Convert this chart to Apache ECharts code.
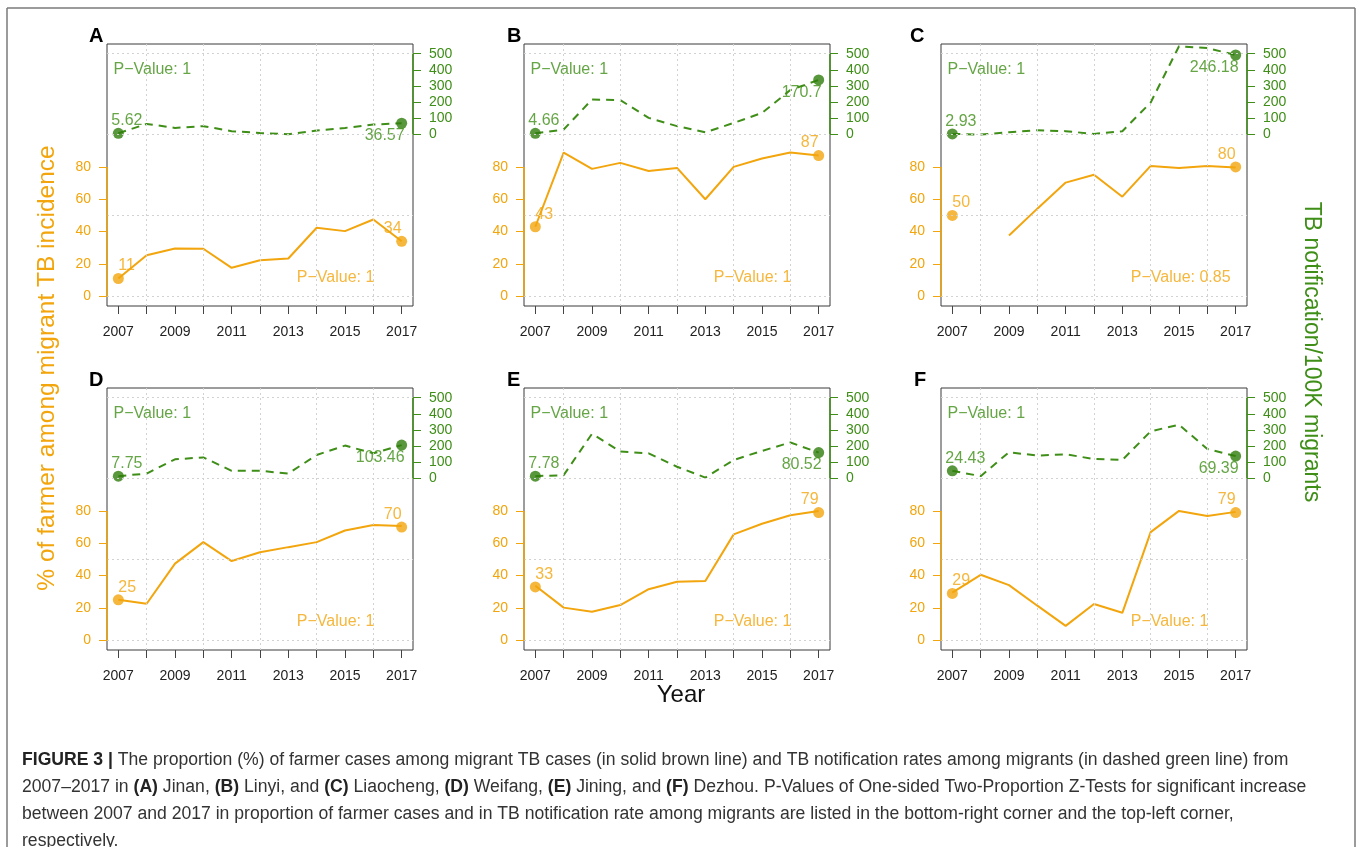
<!DOCTYPE html>
<html>
<head>
<meta charset="utf-8">
<script src="https://cdn.jsdelivr.net/npm/echarts@6.0.0/dist/echarts.min.js"></script>
<style>
html,body{margin:0;padding:0;background:#fff;}
#chart{width:1358px;height:847px;}
</style>
</head>
<body>
<div id="chart"></div>
<script>
// ---------------- data ----------------
const years = [2007, 2008, 2009, 2010, 2011, 2012, 2013, 2014, 2015, 2016, 2017];
const xLabelYears = [2007, 2009, 2011, 2013, 2015, 2017];
const farmerTicks = [0, 20, 40, 60, 80];
const notifTicks = [0, 100, 200, 300, 400, 500];
const gridXValues = [2008, 2010, 2012, 2014, 2016];
const gridYValues = [0, 50, 100, 150];
const panelLetters = ['A', 'B', 'C', 'D', 'E', 'F'];

// % farmer among migrant TB (orange solid)
const farmerA = [11, 25.4, 29.6, 29.4, 17.6, 22.3, 23.4, 42.4, 40.3, 47.5, 34];
const farmerB = [43, 88.9, 78.8, 82.5, 77.5, 79.4, 60, 80, 85.2, 88.9, 87];
const farmerC = [null, null, 37.6, 54.2, 70.3, 75.2, 61.6, 80.6, 79.4, 80.6, 79.6];
const farmerD = [25, 22.6, 47.4, 60.7, 49, 54.4, 57.6, 60.7, 67.9, 71.3, 70.6];
const farmerE = [33.7, 20.2, 17.7, 21.8, 31.6, 36.2, 36.6, 65.5, 72.1, 77.3, 80];
const farmerF = [29.5, 40.5, 34.1, 21.4, 8.9, 22.4, 17, 66.9, 80, 76.9, 79.4];

// TB notification / 100K migrants (green dashed), as drawn on the right axis
const notifA = [8, 66, 41, 52, 21, 10, 2, 25, 41, 62, 70];
const notifB = [8, 31, 217, 213, 103, 52, 14, 72, 134, 275, 338];
const notifC = [4, 0, 15, 27, 21, 4, 21, 198, 546, 535, 492];
const notifD = [15, 31, 119, 131, 48, 48, 31, 146, 204, 156, 207];
const notifE = [15, 21, 277, 167, 156, 73, 6, 115, 171, 223, 161];
const notifF = [48, 15, 163, 142, 150, 121, 115, 292, 333, 183, 139];

const farmerStart = [11, 43, 50, 25, 33, 29];
const farmerEnd = [34, 87, 80, 70, 79, 79];
const notifStartLabel = ['5.62', '4.66', '2.93', '7.75', '7.78', '24.43'];
const notifEndLabel = ['36.57', '170.7', '246.18', '103.46', '80.52', '69.39'];
const pNotif = ['1', '1', '1', '1', '1', '1'];
const pFarmer = ['1', '1', '0.85', '1', '1', '1'];

const farmerSeries = [farmerA, farmerB, farmerC, farmerD, farmerE, farmerF];
const notifSeries = [notifA, notifB, notifC, notifD, notifE, notifF];

// ---------------- layout / style ----------------
const FONT = 'Liberation Sans, Arial, sans-serif';
const ORANGE = '#F2A50C';
const GREEN = '#3E8E17';
const GREEN_DOT = '#2F7D0B';
const X_MIN = 2006.6, X_MAX = 2017.4;
const L_MIN = -6, L_MAX = 156;
const R_MIN = -1060, R_MAX = 560;
const lefts = [107, 524, 941];
const tops = [44, 388];
const W = 306, H = 262;
const letterPos = [[89, 36], [507, 36], [910, 36], [89, 380], [507, 380], [914, 380]];

const grids = [], xAxes = [], yAxes = [], series = [];

for (let i = 0; i < 6; i++) {
  const col = i % 3, row = Math.floor(i / 3);
  grids.push({
    left: lefts[col], top: tops[row], width: W, height: H,
    show: true, borderColor: '#3a3a3a', borderWidth: 1, backgroundColor: 'transparent'
  });
  xAxes.push({
    type: 'value', gridIndex: i, min: X_MIN, max: X_MAX, position: 'bottom',
    axisLine: { show: false, onZero: false }, splitLine: { show: false },
    axisTick: { show: true, inside: false, length: 8, customValues: years, lineStyle: { color: '#444', width: 1 } },
    axisLabel: { customValues: xLabelYears, fontSize: 14, color: '#222', margin: 19, fontFamily: FONT, formatter: v => String(v) }
  });
  yAxes.push({
    type: 'value', gridIndex: i, position: 'left', min: L_MIN, max: L_MAX,
    axisLine: { show: false, onZero: false }, splitLine: { show: false },
    axisTick: { show: true, inside: false, length: 8, customValues: farmerTicks, lineStyle: { color: ORANGE, width: 1 } },
    axisLabel: { customValues: farmerTicks, fontSize: 14, color: ORANGE, margin: 16, fontFamily: FONT, formatter: v => String(v) }
  });
  yAxes.push({
    type: 'value', gridIndex: i, position: 'right', min: R_MIN, max: R_MAX,
    axisLine: { show: false, onZero: false }, splitLine: { show: false },
    axisTick: { show: true, inside: false, length: 8, customValues: notifTicks, lineStyle: { color: GREEN, width: 1 } },
    axisLabel: { customValues: notifTicks, fontSize: 14, color: GREEN, margin: 16, fontFamily: FONT, formatter: v => String(v) }
  });
  const yl = 2 * i, yr = 2 * i + 1;

  // dotted grid lines
  series.push({
    type: 'line', xAxisIndex: i, yAxisIndex: yl, data: [], z: 1, silent: true, clip: false,
    markLine: {
      symbol: 'none', silent: true, animation: false, label: { show: false },
      lineStyle: { type: [2, 3], color: '#d2d2d2', width: 1 },
      emphasis: { disabled: true },
      data: gridXValues.map(v => ({ xAxis: v })).concat(gridYValues.map(v => ({ yAxis: v })))
    }
  });

  // orange solid line + axis segment
  series.push({
    type: 'line', xAxisIndex: i, yAxisIndex: yl, z: 3, clip: false, silent: true,
    data: years.map((y, k) => [y, farmerSeries[i][k]]),
    symbol: 'none', connectNulls: false, animation: false,
    lineStyle: { color: ORANGE, width: 2 },
    markLine: {
      symbol: 'none', silent: true, animation: false, label: { show: false },
      lineStyle: { type: 'solid', color: ORANGE, width: 1.5 },
      data: [[{ coord: [X_MIN, farmerTicks[0]] }, { coord: [X_MIN, farmerTicks[farmerTicks.length - 1]] }]]
    }
  });

  // green dashed line + axis segment
  series.push({
    type: 'line', xAxisIndex: i, yAxisIndex: yr, z: 3, clip: false, silent: true,
    data: years.map((y, k) => [y, notifSeries[i][k]]),
    symbol: 'none', animation: false,
    lineStyle: { color: GREEN, width: 2, type: [8, 6] },
    markLine: {
      symbol: 'none', silent: true, animation: false, label: { show: false },
      lineStyle: { type: 'solid', color: GREEN, width: 1.5 },
      data: [[{ coord: [X_MAX, notifTicks[0]] }, { coord: [X_MAX, notifTicks[notifTicks.length - 1]] }]]
    }
  });

  // orange end dots
  series.push({
    type: 'scatter', xAxisIndex: i, yAxisIndex: yl, z: 4, clip: false, silent: true, animation: false,
    symbolSize: 11, itemStyle: { color: ORANGE },
    data: [
      { value: [years[0], farmerStart[i]], label: { show: true, formatter: String(farmerStart[i]), position: [5.5, 1], align: 'left', verticalAlign: 'bottom' } },
      { value: [years[years.length - 1], farmerEnd[i]], label: { show: true, formatter: String(farmerEnd[i]), position: [5.5, 1], align: 'right', verticalAlign: 'bottom' } }
    ],
    label: { color: ORANGE, fontSize: 16, fontFamily: FONT }
  });

  // green end dots
  const nArr = notifSeries[i];
  series.push({
    type: 'scatter', xAxisIndex: i, yAxisIndex: yr, z: 4, clip: false, silent: true, animation: false,
    symbolSize: 11, itemStyle: { color: GREEN_DOT },
    data: [
      { value: [years[0], nArr[0]], label: { show: true, formatter: notifStartLabel[i], position: [-1.5, 1], align: 'left', verticalAlign: 'bottom' } },
      { value: [years[years.length - 1], nArr[nArr.length - 1]], label: { show: true, formatter: notifEndLabel[i], position: [8.5, 10], align: 'right', verticalAlign: 'top' } }
    ],
    label: { color: GREEN, fontSize: 16, fontFamily: FONT }
  });

  // P-value texts
  series.push({
    type: 'scatter', xAxisIndex: i, yAxisIndex: yr, z: 5, clip: false, silent: true, animation: false,
    symbolSize: 0,
    data: [{ value: [2006.83, 400], label: { show: true, formatter: 'P\u2212Value: ' + pNotif[i], position: [0, 0], align: 'left', verticalAlign: 'middle', color: GREEN, fontSize: 16, fontFamily: FONT } }]
  });
  series.push({
    type: 'scatter', xAxisIndex: i, yAxisIndex: yl, z: 5, clip: false, silent: true, animation: false,
    symbolSize: 0,
    data: [{ value: [2013.3, 11.5], label: { show: true, formatter: 'P\u2212Value: ' + pFarmer[i], position: [0, 0], align: 'left', verticalAlign: 'middle', color: ORANGE, fontSize: 16, fontFamily: FONT } }]
  });
}

// ---------------- graphic texts ----------------
const graphics = [];
// figure frame
graphics.push({ type: 'line', silent: true, shape: { x1: 7, y1: 8, x2: 1355, y2: 8 }, style: { stroke: '#7a7a7a', lineWidth: 1.5 } });
graphics.push({ type: 'line', silent: true, shape: { x1: 7, y1: 8, x2: 7, y2: 847 }, style: { stroke: '#7a7a7a', lineWidth: 1.5 } });
graphics.push({ type: 'line', silent: true, shape: { x1: 1355, y1: 8, x2: 1355, y2: 847 }, style: { stroke: '#7a7a7a', lineWidth: 1.5 } });

panelLetters.forEach((t, i) => {
  graphics.push({ type: 'text', silent: true, x: letterPos[i][0], y: letterPos[i][1],
    style: { text: t, fontFamily: FONT, fontWeight: 'bold', fontSize: 20, fill: '#000', textAlign: 'left', textVerticalAlign: 'middle' } });
});
graphics.push({ type: 'text', silent: true, x: 47, y: 368, rotation: Math.PI / 2,
  style: { text: '% of farmer among migrant TB incidence', fontFamily: FONT, fontSize: 24.5, fill: ORANGE, textAlign: 'center', textVerticalAlign: 'middle' } });
graphics.push({ type: 'text', silent: true, x: 1311, y: 352, rotation: -Math.PI / 2,
  style: { text: 'TB notification/100K migrants', fontFamily: FONT, fontSize: 23, fill: GREEN, textAlign: 'center', textVerticalAlign: 'middle' } });
graphics.push({ type: 'text', silent: true, x: 681, y: 695,
  style: { text: 'Year', fontFamily: FONT, fontSize: 24, fill: '#111', textAlign: 'center', textVerticalAlign: 'middle' } });

const captionLines = [
  '{b|FIGURE 3 |} The proportion (%) of farmer cases among migrant TB cases (in solid brown line) and TB notification rates among migrants (in dashed green line) from',
  '2007\u20132017 in {b|(A)} Jinan, {b|(B)} Linyi, and {b|(C)} Liaocheng, {b|(D)} Weifang, {b|(E)} Jining, and {b|(F)} Dezhou. P-Values of One-sided Two-Proportion Z-Tests for significant increase',
  'between 2007 and 2017 in proportion of farmer cases and in TB notification rate among migrants are listed in the bottom-right corner and the top-left corner,',
  'respectively.'
];
captionLines.forEach((t, k) => {
  graphics.push({ type: 'text', silent: true, x: 22, y: 760 + k * 27,
    style: { text: t, fontFamily: FONT, fontSize: 17.6, fill: '#333', textAlign: 'left', textVerticalAlign: 'middle',
      rich: { b: { fontFamily: FONT, fontSize: 17.6, fontWeight: 'bold', fill: '#222' } } } });
});

const chart = echarts.init(document.getElementById('chart'), null, { renderer: 'canvas' });
chart.setOption({
  backgroundColor: '#fff',
  animation: false,
  grid: grids,
  xAxis: xAxes,
  yAxis: yAxes,
  series: series,
  graphic: graphics
});
</script>
</body>
</html>
